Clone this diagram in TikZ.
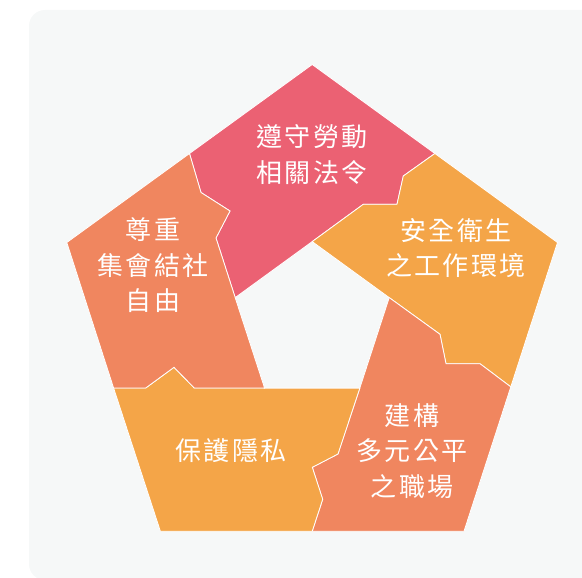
\documentclass[tikz,border=0pt]{standalone}
\usepackage{fontspec}
\newfontfamily\cjk[LetterSpace=9]{Noto Sans CJK TC}
\definecolor{bgc}{HTML}{F6F8F8}
\definecolor{redc}{HTML}{EB6173}
\definecolor{orac}{HTML}{F4A548}
\definecolor{salc}{HTML}{F0865F}
\tikzset{
  piece/.style={draw=white, line width=0.8pt, line join=miter},
  lbl/.style={text=white, align=center, inner sep=0pt, font=\cjk\fontsize{26}{35.5}\selectfont},
}
\begin{document}
\begin{tikzpicture}[x=1pt,y=-1pt]
\useasboundingbox (0,0) rectangle (582,578);
\fill[bgc, rounded corners=16pt] (29,10) rectangle (600,580);
% outer pentagon
\coordinate (OT) at (312.2,64.5);
\coordinate (OUR) at (557.5,242.5);
\coordinate (OLR) at (464,531.3);
\coordinate (OLL) at (160.4,531.3);
\coordinate (OUL) at (66.8,242.5);
% outer edge midpoints
\coordinate (MUL) at (189.5,153.5);
\coordinate (MUR) at (434.9,153.5);
\coordinate (MR) at (510.8,386.9);
\coordinate (MB) at (312.2,531.3);
\coordinate (ML) at (113.6,388.0);
% inner pentagon
\coordinate (IT) at (312.2,241.6);
\coordinate (IR) at (389.2,297.6);
\coordinate (ILR) at (359.8,388.1);
\coordinate (ILL) at (264.6,388.1);
\coordinate (IL) at (235.2,297.6);
% boundary points
\coordinate (a1) at (201,192.5);
\coordinate (a2) at (230,211);
\coordinate (a3) at (216,238);
\coordinate (b1) at (403.3,176);
\coordinate (b2) at (397,204.3);
\coordinate (b3) at (363.3,204.3);
\coordinate (c1) at (440,334.3);
\coordinate (c2) at (446,363.7);
\coordinate (c3) at (480,363.7);
\coordinate (d1) at (338,454);
\coordinate (d2) at (312.3,467.3);
\coordinate (d3) at (322.7,499.3);
\coordinate (e1) at (145.7,388.0);
\coordinate (e2) at (174,367.3);
\coordinate (e3) at (194.3,388.0);
% pieces
\filldraw[piece, fill=redc] (MUL) -- (OT) -- (MUR) -- (b1) -- (b2) -- (b3) -- (IT) -- (IL) -- (a3) -- (a2) -- (a1) -- cycle;
\filldraw[piece, fill=orac] (MUR) -- (OUR) -- (MR) -- (c3) -- (c2) -- (c1) -- (IR) -- (IT) -- (b3) -- (b2) -- (b1) -- cycle;
\filldraw[piece, fill=salc] (MR) -- (OLR) -- (MB) -- (d3) -- (d2) -- (d1) -- (ILR) -- (IR) -- (c1) -- (c2) -- (c3) -- cycle;
\filldraw[piece, fill=orac] (MB) -- (OLL) -- (ML) -- (e1) -- (e2) -- (e3) -- (ILL) -- (ILR) -- (d1) -- (d2) -- (d3) -- cycle;
\filldraw[piece, fill=salc] (ML) -- (OUL) -- (MUL) -- (a1) -- (a2) -- (a3) -- (IL) -- (ILL) -- (e3) -- (e2) -- (e1) -- cycle;
% labels
\node[lbl] (t1) at (312,154.5) {遵守勞動\\相關法令};
\node[lbl] (t2) at (456,248) {安全衛生\\之工作環境};
\node[lbl] (t3) at (412,451) {建構\\多元公平\\之職場};
\node[lbl] (t4) at (231,450.3) {保護隱私};
\node[lbl] (t5) at (153,265.5) {尊重\\集會結社\\自由};
\end{tikzpicture}
\end{document}
